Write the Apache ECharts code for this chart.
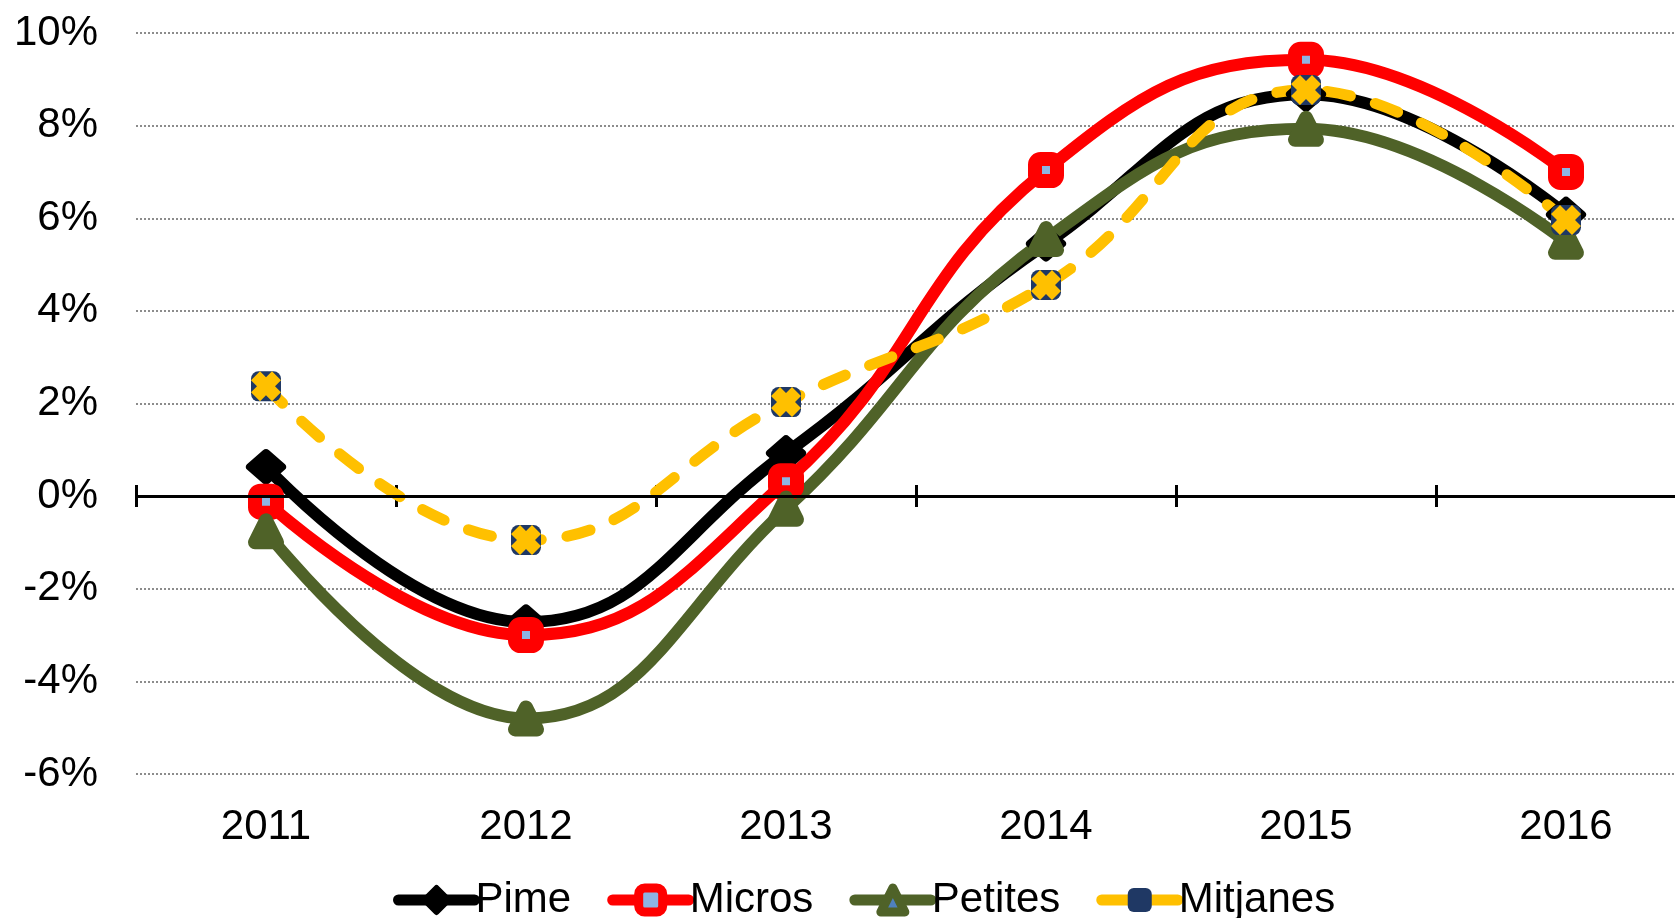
<!DOCTYPE html>
<html>
<head>
<meta charset="utf-8">
<script src="https://cdn.jsdelivr.net/npm/echarts@6/dist/echarts.min.js"></script>
<style>
html, body { margin: 0; padding: 0; background: #fff; overflow: hidden; }
#chart { width: 1720px; height: 918px; }
</style>
</head>
<body>
<div id="chart"></div>
<script>
// dades
var anys = ['2011', '2012', '2013', '2014', '2015', '2016'];
var pime = [0.63, -2.72, 0.93, 5.45, 8.68, 6.08];
var micros = [-0.12, -3.0, 0.32, 7.04, 9.42, 7.0];
var petites = [-0.76, -4.8, -0.27, 5.55, 7.93, 5.49];
var mitjanes = [2.37, -0.95, 2.03, 4.56, 8.77, 5.96];

var font = 'Liberation Sans, Arial, sans-serif';
var creuPath = 'path://M0,3 L3,0 L5,2 L7,0 L10,3 L8,5 L10,7 L7,10 L5,8 L3,10 L0,7 L2,5 Z';

var chart = echarts.init(document.getElementById('chart'));
var option = {
	animation : false,
	grid : [
		{
			left : 136,
			top : 33,
			width : 1560,
			height : 741
		}, {
			// franja per a les marques que travessen l'eix 0
			left : 136,
			top : 485,
			width : 1560,
			height : 22
		}
	],
	legend : {
		data : [
			{ name : 'Pime', lineStyle : { width : 11, cap : 'round' },
				itemStyle : { borderWidth : 6, borderColor : '#000', borderJoin : 'round' } },
			{ name : 'Micros', lineStyle : { width : 11, cap : 'round' },
				itemStyle : { borderWidth : 9, borderColor : '#ff0000', borderJoin : 'round' } },
			{ name : 'Petites', lineStyle : { width : 11, cap : 'round' },
				itemStyle : { borderWidth : 9, borderColor : '#4f6228', borderJoin : 'round' } },
			{ name : 'Mitjanes', lineStyle : { width : 11, cap : 'round', type : 'solid' } }
		],
		left : 388,
		top : 874,
		itemWidth : 76,
		itemHeight : 30,
		itemGap : 36,
		textStyle : {
			fontFamily : font,
			fontSize : 42,
			color : '#000',
			padding : [0, 0, 0, -4]
		}
	},
	xAxis : [
		{
			type : 'category',
			data : anys,
			gridIndex : 0,
			axisLine : { show : false },
			axisTick : { show : false },
			axisLabel : {
				fontFamily : font,
				fontSize : 42,
				color : '#000',
				margin : 32
			}
		}, {
			type : 'category',
			data : anys,
			gridIndex : 1,
			axisLine : { show : false },
			axisTick : { show : false },
			axisLabel : { show : false },
			splitLine : {
				show : true,
				lineStyle : { color : '#000', width : 3 }
			}
		}
	],
	yAxis : [
		{
			type : 'value',
			gridIndex : 0,
			min : -6,
			max : 10,
			interval : 2,
			axisLine : { show : false },
			axisTick : { show : false },
			axisLabel : {
				fontFamily : font,
				fontSize : 42,
				color : '#000',
				margin : 38,
				formatter : '{value}%'
			},
			splitLine : {
				lineStyle : {
					color : '#8c8c8c',
					width : 2,
					type : [2, 2]
				}
			}
		}, {
			type : 'value',
			gridIndex : 1,
			show : false
		}
	],
	series : [
		{
			name : 'Pime',
			type : 'line',
			data : pime,
			smooth : 0.45,
			symbol : 'diamond',
			symbolSize : [32, 28],
			lineStyle : { color : '#000', width : 12 },
			itemStyle : {
				color : '#000',
				borderColor : '#000',
				borderWidth : 8,
				borderJoin : 'round'
			},
			markLine : {
				silent : true,
				symbol : 'none',
				label : { show : false },
				lineStyle : { color : '#000', width : 3, type : 'solid' },
				data : [{ yAxis : 0 }]
			}
		}, {
			name : 'Micros',
			type : 'line',
			data : micros,
			smooth : 0.45,
			symbol : 'roundRect',
			symbolSize : 22,
			lineStyle : { color : '#ff0000', width : 12 },
			itemStyle : {
				color : '#8eb4e3',
				borderColor : '#ff0000',
				borderWidth : 14,
				borderJoin : 'round'
			}
		}, {
			name : 'Petites',
			type : 'line',
			data : petites,
			smooth : 0.45,
			symbol : 'triangle',
			symbolSize : 22,
			lineStyle : { color : '#4f6228', width : 12 },
			itemStyle : {
				color : '#4f81bd',
				borderColor : '#4f6228',
				borderWidth : 14,
				borderJoin : 'round'
			}
		}, {
			name : 'Mitjanes',
			type : 'line',
			data : mitjanes,
			smooth : 0.45,
			symbol : 'roundRect',
			symbolSize : 30,
			lineStyle : { color : '#ffc000', width : 11, type : [24, 26], cap : 'round' },
			itemStyle : { color : '#1f3864' }
		}, {
			name : 'Mitjanes creu',
			type : 'scatter',
			data : mitjanes,
			symbol : creuPath,
			symbolSize : 30,
			itemStyle : { color : '#ffc000', opacity : 1 },
			z : 5
		}
	]
};
chart.setOption(option);
</script>
</body>
</html>
